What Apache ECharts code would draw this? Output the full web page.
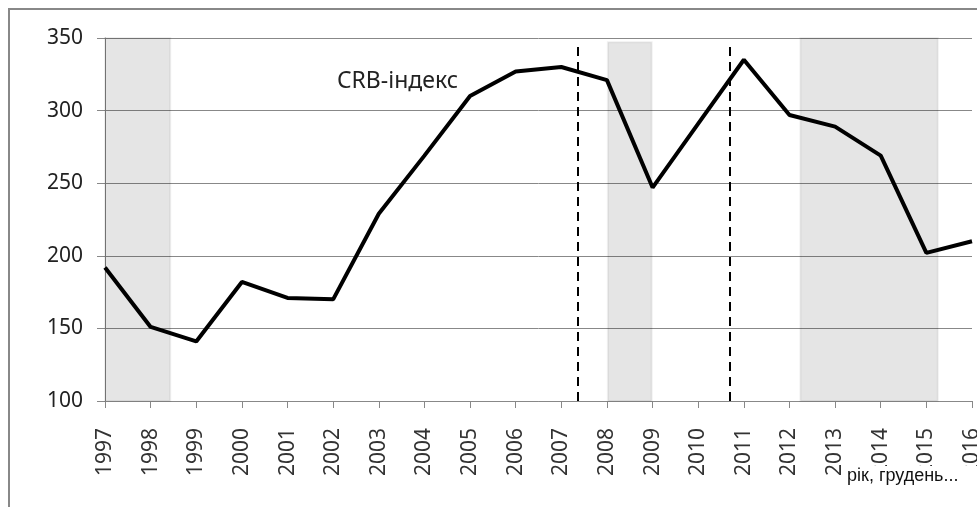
<!DOCTYPE html>
<html>
<head>
<meta charset="utf-8">
<script src="https://cdn.jsdelivr.net/npm/echarts@6/dist/echarts.min.js"></script>
<style>
  html, body { margin: 0; padding: 0; background: #fff; }
  #chart { width: 977px; height: 507px; }
</style>
</head>
<body>
<div id="chart"></div>
<script>
const years = [1997, 1998, 1999, 2000, 2001, 2002, 2003, 2004, 2005, 2006,
  2007, 2008, 2009, 2010, 2011, 2012, 2013, 2014, 2015, 2016];
const crbIndex = [192, 151, 141, 182, 171, 170, 229, 269, 310, 327,
  330, 321, 247, 291, 335, 297, 289, 269, 202, 210];
const yTicks = [100, 150, 200, 250, 300, 350];
// shaded periods: [from, to, top]
const shaded = [
  [1997, 1998.43, 350],
  [2008.02, 2008.98, 347],
  [2012.24, 2015.25, 350],
];
const dashedAt = [2007.37, 2010.7];
const seriesLabel = "CRB-індекс";
const axisNote = "рік, грудень...";

const chart = echarts.init(document.getElementById("chart"));
const font = "'Noto Sans', sans-serif";

chart.setOption({
  animation: false,
  backgroundColor: "#fff",
  grid: { left: 105, right: 5, top: 38, bottom: 106, outerBoundsMode: "none" },
  xAxis: {
    type: "value",
    min: years[0],
    max: years[years.length - 1],
    interval: 1,
    axisLine: { show: true, lineStyle: { color: "#888", width: 1 } },
    axisTick: { show: true, length: 7, lineStyle: { color: "#888" } },
    splitLine: { show: false },
    axisLabel: {
      rotate: 90,
      margin: 27,
      color: "#333",
      fontFamily: font,
      fontSize: 21,
      hideOverlap: false,
      showMinLabel: true,
      showMaxLabel: true,
      formatter: (v) => (years.includes(v) ? String(v) : ""),
    },
  },
  yAxis: {
    type: "value",
    min: yTicks[0],
    max: yTicks[yTicks.length - 1],
    interval: 50,
    axisLine: { show: true, lineStyle: { color: "#888", width: 1 } },
    axisTick: { show: true, length: 8, lineStyle: { color: "#888" } },
    splitLine: { show: true, lineStyle: { color: "#888", width: 1 } },
    axisLabel: {
      margin: 22,
      color: "#222",
      fontFamily: font,
      fontSize: 21,
    },
  },
  series: [
    {
      type: "line",
      data: years.map((y, i) => [y, crbIndex[i]]),
      symbol: "none",
      lineStyle: { color: "#000", width: 4 },
      z: 5,
      markArea: {
        silent: true,
        itemStyle: {
          color: "rgba(0,0,0,0.1)",
          borderColor: "rgba(0,0,0,0.06)",
          borderWidth: 2,
        },
        data: shaded.map((s) => [
          { coord: [s[0], 100] },
          { coord: [s[1], s[2]] },
        ]),
      },
      markLine: {
        silent: true,
        symbol: "none",
        label: { show: false },
        lineStyle: { color: "#000", width: 2, type: [9, 6] },
        data: dashedAt.map((x) => [
          { coord: [x, 100] },
          { coord: [x, 347] },
        ]),
      },
    },
  ],
  graphic: [
    {
      type: "rect",
      shape: { x: 9, y: 9, width: 1000, height: 600 },
      style: { fill: "none", stroke: "#888", lineWidth: 2 },
      silent: true,
    },
    {
      type: "text",
      left: 337,
      top: 70,
      style: {
        text: seriesLabel,
        fill: "#222",
        font: "23px 'Noto Sans', sans-serif",
      },
    },
    {
      type: "rect",
      shape: { x: 846, y: 466, width: 140, height: 26 },
      style: { fill: "#fff" },
      z: 10,
    },
    {
      type: "text",
      left: 847,
      top: 467,
      z: 11,
      style: {
        text: axisNote,
        fill: "#111",
        font: "18px 'Liberation Sans Narrow', 'Liberation Sans', sans-serif",
      },
    },
  ],
});
</script>
</body>
</html>
